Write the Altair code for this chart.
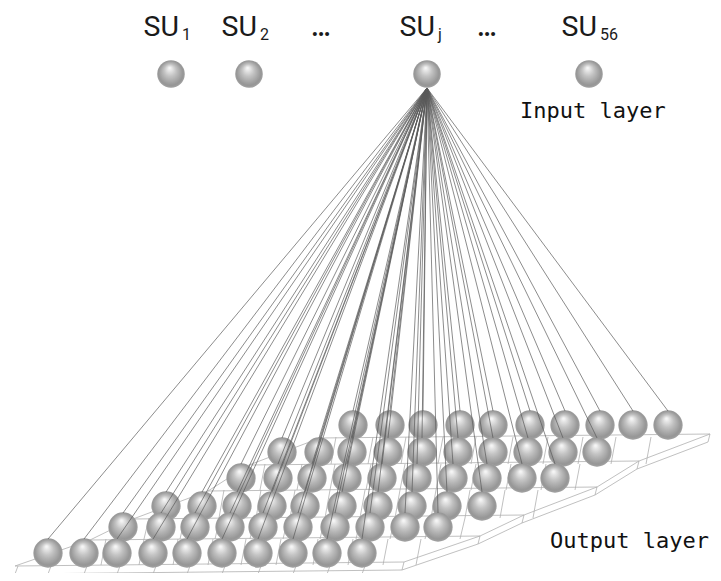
import altair as alt
import pandas as pd

# ---- data (image pixel coordinates) ----
row_y = [553, 527, 506, 478, 452, 425]
row_x = [
    [48, 84, 117, 153, 187, 222, 258, 293, 327, 362],
    [123, 161, 195, 230, 263, 298, 335, 370, 405, 438],
    [166, 202, 237, 272, 305, 342, 378, 412, 447, 482],
    [241, 278, 312, 347, 382, 417, 453, 487, 522, 555],
    [282, 319, 352, 388, 422, 458, 493, 528, 563, 597],
    [353, 390, 423, 460, 493, 530, 565, 600, 633, 668],
]
input_x = [171, 249, 427, 589]
input_y = 74
input_sub = ["1", "2", "j", "56"]
dots_x = [321, 487]
apex_index = 2

W, H = 705, 565
XS = alt.Scale(domain=[8, 8 + W], nice=False, zero=False)
YS = alt.Scale(domain=[8 + H, 8], nice=False, zero=False)
X = alt.X("x:Q", scale=XS, axis=None)
Y = alt.Y("y:Q", scale=YS, axis=None)

# ---- mesh under the output layer ----
segs = []
f = [y + 13 for y in row_y]
L = [xs[0] - 33 for xs in row_x]
R = [xs[-1] + 42 for xs in row_x]
for r in range(6):
    segs.append((L[r], f[r], R[r], f[r] - 4))
    segs.append((R[r], f[r] - 4, R[r] - 2, f[r] + 4))
for r in range(5):
    segs.append((L[r], f[r], L[r + 1], f[r + 1]))
    segs.append((R[r], f[r] - 4, R[r + 1], f[r + 1] - 4))
    segs.append((R[r] - 2, f[r] + 4, R[r + 1] - 2, f[r + 1] + 4))
    for x in row_x[r + 1]:
        segs.append((x - 17, f[r + 1] - 1, x - 22, f[r] - 1))
segs.append((L[0], f[0] + 8, R[0] - 2, f[0] + 4))
for x in [L[0]] + row_x[0]:
    segs.append((x + 3, f[0], x, f[0] + 8))
mesh = pd.DataFrame(segs, columns=["x", "y", "x2", "y2"])

# ---- nodes ----
nodes = []
for r in range(5, -1, -1):
    for x in row_x[r]:
        nodes.append((x, row_y[r]))
nodes_df = pd.DataFrame(nodes, columns=["x", "y"])
inp_df = pd.DataFrame({"x": input_x, "y": [input_y] * len(input_x)})

# ---- connections from SU_j ----
ax, ay = input_x[apex_index], input_y + 14
conn = pd.DataFrame(
    [(ax, ay, x, y - 14) for (x, y) in nodes], columns=["x", "y", "x2", "y2"]
)

grad = alt.RadialGradient(
    gradient="radial",
    stops=[
        alt.GradientStop(offset=0, color="#f6f6f6"),
        alt.GradientStop(offset=0.4, color="#c2c2c2"),
        alt.GradientStop(offset=0.85, color="#959595"),
        alt.GradientStop(offset=1, color="#a6a6a6"),
    ],
    x1=0.45, y1=0.28, r1=0.02, x2=0.5, y2=0.5, r2=0.52,
)

mesh_layer = alt.Chart(mesh).mark_rule(color="#b0b0b0", strokeWidth=0.8).encode(
    x=X, y=Y, x2="x2:Q", y2="y2:Q"
)
out_balls = alt.Chart(nodes_df).mark_circle(size=860, color=grad, opacity=1).encode(x=X, y=Y)
in_balls = alt.Chart(inp_df).mark_circle(size=760, color=grad, opacity=1).encode(x=X, y=Y)
conn_layer = alt.Chart(conn).mark_rule(color="#5a5a5a", strokeWidth=0.7).encode(
    x=X, y=Y, x2="x2:Q", y2="y2:Q"
)

su_df = pd.DataFrame({"x": [x + 8 for x in input_x], "y": [35.5] * 4, "t": ["SU"] * 4})
sub_df = pd.DataFrame({"x": [x + 11 for x in input_x], "y": [40] * 4, "t": input_sub})
dots_df = pd.DataFrame({"x": dots_x, "y": [36] * 2, "t": ["..."] * 2})
lab_df = pd.DataFrame({"x": [520, 550], "y": [118, 548], "t": ["Input layer", "Output layer"]})

su_text = alt.Chart(su_df).mark_text(
    font="Roboto", fontSize=28.5, align="right", baseline="alphabetic", color="#1a1a1a"
).encode(x=X, y=Y, text="t:N")
sub_text = alt.Chart(sub_df).mark_text(
    font="Roboto", fontSize=16, align="left", baseline="alphabetic", color="#1a1a1a"
).encode(x=X, y=Y, text="t:N")
dots_text = alt.Chart(dots_df).mark_text(
    font="Lato", fontSize=26, fontWeight="bold", align="center", baseline="alphabetic", color="#1a1a1a"
).encode(x=X, y=Y, text="t:N")
lab_text = alt.Chart(lab_df).mark_text(
    font="DejaVu Sans Mono", fontSize=22, align="left", baseline="alphabetic", color="#111111"
).encode(x=X, y=Y, text="t:N")

chart = alt.layer(
    mesh_layer, out_balls, conn_layer, in_balls, su_text, sub_text, dots_text, lab_text
).properties(
    width=W, height=H, padding=0, autosize=alt.AutoSizeParams(type="none"), background="white"
).configure_view(strokeWidth=0)

chart.save("out.html", embed_options={"renderer": "svg", "actions": False})
